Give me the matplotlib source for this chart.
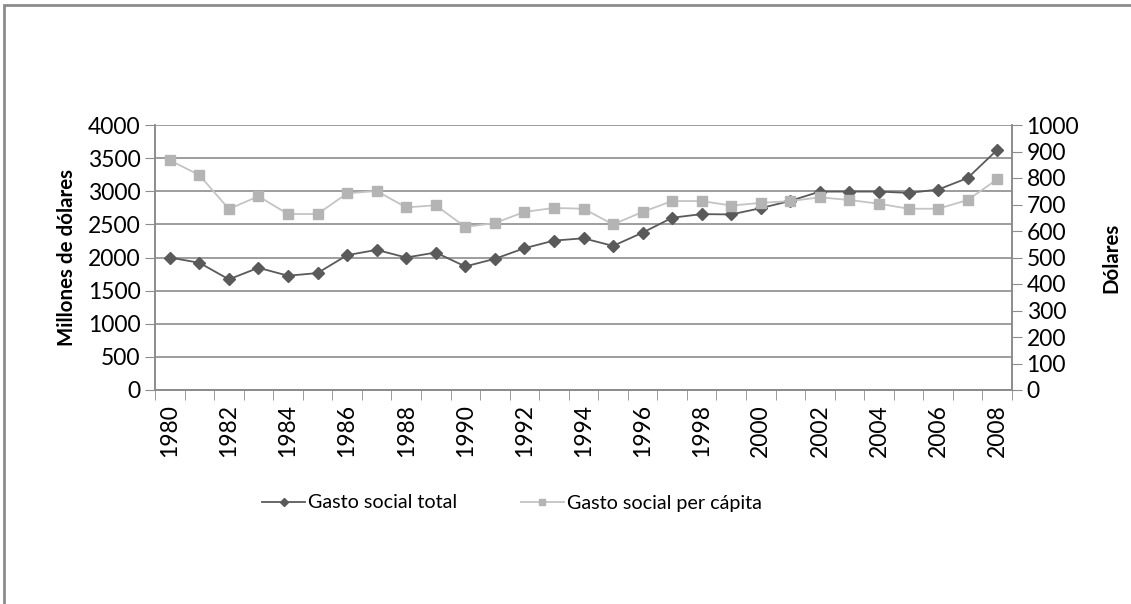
from matplotlib import pyplot as plt
from matplotlib.patches import Rectangle
import numpy as np

plt.rcParams['font.family'] = ['Lato', 'DejaVu Sans']

years = list(range(1980, 2009))
gasto_total = [2000, 1920, 1670, 1845, 1725, 1765, 2035, 2115, 2000, 2075,
               1865, 1980, 2140, 2255, 2290, 2175, 2375, 2600, 2655, 2650,
               2745, 2855, 2995, 2995, 2995, 2975, 3025, 3200, 3625]
gasto_percapita = [867, 811, 683, 731, 664, 664, 742, 751, 689, 697,
                   615, 630, 672, 687, 684, 625, 672, 713, 713, 696,
                   706, 713, 727, 717, 703, 684, 684, 717, 795]

col_total = '#5a5a5a'
col_pc = '#b4b4b4'
col_axis = '#8c8c8c'

fig = plt.figure(figsize=(11.31, 6.04), dpi=100)
ax = fig.add_axes([155 / 1131, 1 - 390 / 604, (1012 - 155) / 1131, 265 / 604])
ax2 = ax.twinx()

x = np.arange(len(years))
l1, = ax.plot(x, gasto_total, color=col_total, lw=1.3, marker='D', markersize=6.5,
              label='Gasto social total')
l2, = ax2.plot(x, gasto_percapita, color='#c4c4c4', lw=1.3, marker='s', markersize=7.5,
               markerfacecolor=col_pc, markeredgecolor=col_pc, label='Gasto social per cápita')

ax.set_ylim(0, 4000)
ax.set_yticks(range(0, 4001, 500))
ax2.set_ylim(0, 1000)
ax2.set_yticks(range(0, 1001, 100))
ax.set_xlim(-0.5, len(years) - 0.5)
ax.set_xticks(x[::2])
ax.set_xticklabels([str(y) for y in years[::2]], rotation=90)
ax.set_xticks(np.arange(-0.5, len(years)), minor=True)
ax.tick_params(axis='x', which='major', length=0, pad=10)
ax.tick_params(axis='x', which='minor', length=7, color=col_axis)
ax.tick_params(axis='y', length=7, color=col_axis, labelsize=16.5)
ax.tick_params(axis='x', labelsize=16.5)
ax2.tick_params(axis='y', length=7, color=col_axis, labelsize=16.5)

ax.yaxis.grid(True, color=col_axis, lw=1.2)
ax.set_axisbelow(True)
for a in (ax, ax2):
    a.spines['top'].set_visible(False)
    for s in ('left', 'right', 'bottom'):
        a.spines[s].set_color(col_axis)
        a.spines[s].set_linewidth(1.2)

ax.set_ylabel('Millones de dólares', fontsize=14.8, fontweight='bold', labelpad=8)
ax2.set_ylabel('Dólares', fontsize=14.8, fontweight='bold', labelpad=16)

fig.legend(handles=[l1, l2], loc='center', bbox_to_anchor=(512 / 1131, 1 - 503 / 604),
           ncol=2, frameon=False, fontsize=14.2, columnspacing=3.2, handlelength=2.2,
           markerscale=0.6, handletextpad=0.15)

fig.add_artist(Rectangle((4 / 1131, -0.1), 1.2, 1 - 5 / 604 + 0.1, transform=fig.transFigure,
                         fill=False, edgecolor='#8c8c8c', lw=2))

plt.savefig('out.png', dpi=100)
